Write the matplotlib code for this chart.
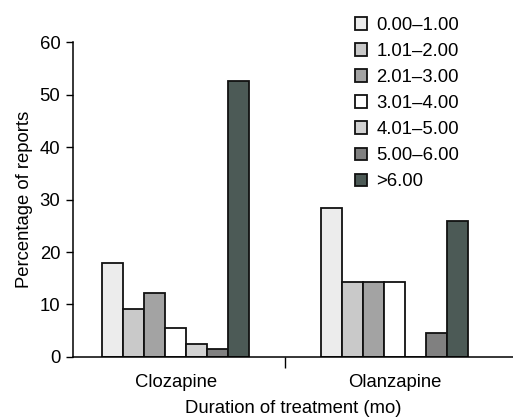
import matplotlib
matplotlib.use("Agg")
import matplotlib.pyplot as plt
import numpy as np

plt.rcParams['font.family'] = ['Liberation Sans', 'DejaVu Sans']

groups = ["Clozapine", "Olanzapine"]
durations = ["0.00\u20131.00", "1.01\u20132.00", "2.01\u20133.00", "3.01\u20134.00",
             "4.01\u20135.00", "5.00\u20136.00", ">6.00"]
clozapine = [18.0, 9.2, 12.2, 5.5, 2.4, 1.6, 52.5]
olanzapine = [28.3, 14.3, 14.2, 14.2, 0.0, 4.6, 26.0]
colors = ["#ececec", "#c9c9c9", "#a3a3a3", "#ffffff", "#d2d2d2", "#808080", "#4c5a56"]
yticks = [0, 10, 20, 30, 40, 50, 60]

fs = 13.3
fig = plt.figure(figsize=(5.13, 4.17), dpi=100)
ax = fig.add_axes([0.142, 0.144, 0.858, 0.755])

centers = np.array([0.5, 1.5])
w = 0.096
n = len(durations)
for i in range(n):
    vals = [clozapine[i], olanzapine[i]]
    xs = centers + (i - (n - 1) / 2) * w
    ax.bar(xs, vals, width=w, color=colors[i], edgecolor="#111111", linewidth=1.3,
           label=durations[i])

ax.set_xlim(0.03, 2.04)
ax.set_ylim(0, 60)
ax.set_yticks(yticks)
ax.set_xticks(centers)
ax.set_xticklabels(groups, fontsize=fs)
ax.set_xticks([1.0], minor=True)
ax.tick_params(axis='x', which='major', length=0, pad=12)
ax.tick_params(axis='x', which='minor', length=8, width=1, direction='out')
ax.tick_params(axis='y', labelsize=fs, length=5, width=1, direction='out', pad=4)
for s in ["top", "right"]:
    ax.spines[s].set_visible(False)
ax.spines["left"].set_linewidth(1.1)
ax.spines["bottom"].set_linewidth(1.1)
ax.set_ylabel("Percentage of reports", fontsize=fs, labelpad=5)
ax.set_xlabel("Duration of treatment (mo)", fontsize=fs, labelpad=7)

leg = fig.legend(loc="upper left", bbox_to_anchor=(355 / 513, 1 - 17 / 417),
                 bbox_transform=fig.transFigure, frameon=False,
                 fontsize=fs, handlelength=0.66, handleheight=0.66,
                 labelspacing=0.49, handletextpad=0.5, borderaxespad=0, borderpad=0)

fig.savefig("out.png", dpi=100)
